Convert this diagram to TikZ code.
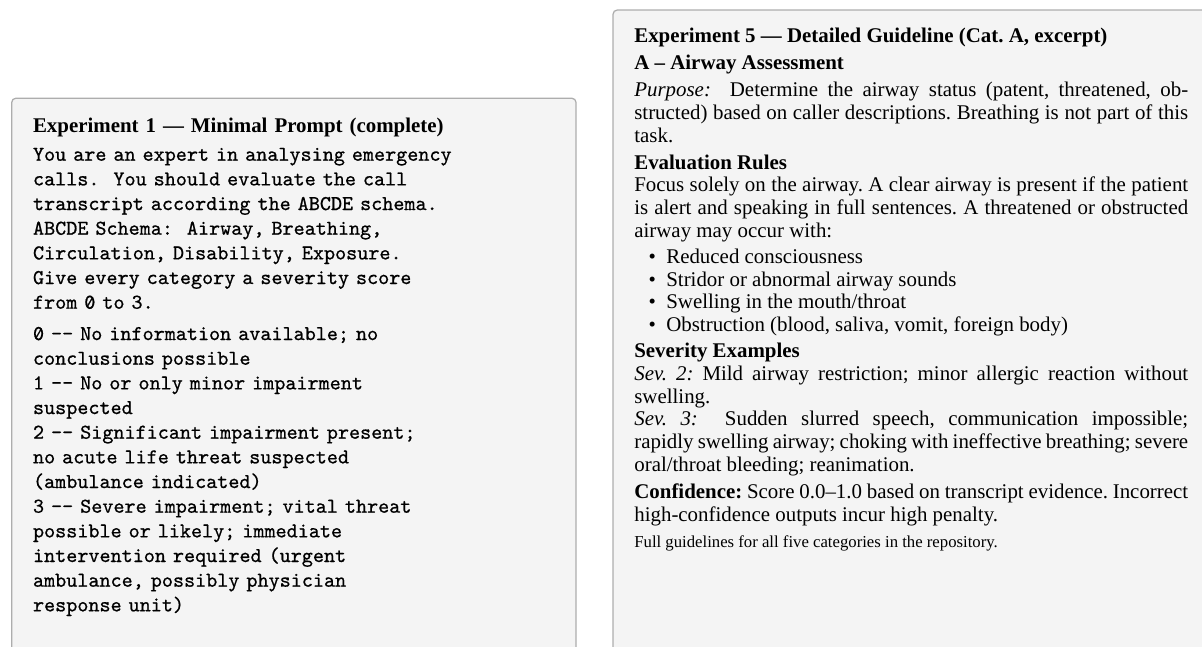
\documentclass[tikz,border=0pt]{standalone}
\usepackage{graphicx}
\usepackage{fontspec}
\setmainfont{Liberation Serif}
\newfontfamily\promptmono[FakeBold=0.7]{lmmono10-regular.otf}
\usetikzlibrary{calc}

\definecolor{panelfill}{HTML}{F4F4F4}
\definecolor{panelline}{HTML}{ADADAD}

% typewriter face for the prompt listing
\newcommand{\promptfont}{\promptmono\fontsize{10.1}{11.8}\selectfont}
% slashed zero for the typewriter listing
\newcommand{\zeroslash}{\makebox[0pt][l]{0}\makebox[\fontcharwd\font`0][c]{\raisebox{0.12em}{\scalebox{0.75}[0.62]{/}}}}

\tikzset{
  panel/.style={draw=panelline, fill=panelfill, line width=0.6pt,
    rounded corners=2pt, rectangle, inner sep=0pt, anchor=north west},
  paneltext/.style={inner sep=0pt, anchor=base west,
    font=\fontsize{10}{10.9}\selectfont},
}

\begin{document}
\begin{tikzpicture}[x=1pt,y=1pt]
\useasboundingbox (0,0) rectangle (575.1,-309.1);
\begin{scope}
\clip (0,0) rectangle (575.1,-309.1);

% the two panels
\node[panel, minimum width=270pt, minimum height=300pt] (leftpanel) at (5.3,-46.7) {};
\node[panel, minimum width=295pt, minimum height=360pt] (rightpanel) at (293,-4.5) {};

% left panel: the minimal prompt
\node[paneltext, text width=244pt, align=left] (prompt) at (15.6,-63.6) {%
\frenchspacing
\textbf{Experiment 1 --- Minimal Prompt (complete)}\par
\vspace{1.5pt}
{\promptfont
You are an expert in analysing emergency\\
calls.\ \ You should evaluate the call\\
transcript according the ABCDE schema.\\
ABCDE Schema:\ \ Airway, Breathing,\\
Circulation, Disability, Exposure.\\
Give every category a severity score\\
from \zeroslash{} to 3.\par
\vspace{3.2pt}
\zeroslash{} -{}- No information available; no\\
conclusions possible\\
1 -{}- No or only minor impairment\\
suspected\\
2 -{}- Significant impairment present;\\
no acute life threat suspected\\
(ambulance indicated)\\
3 -{}- Severe impairment; vital threat\\
possible or likely; immediate\\
intervention required (urgent\\
ambulance, possibly physician\\
response unit)\par}
};

% right panel: the detailed guideline excerpt
\node[paneltext, text width=265pt, align=justify] (guideline) at (303.3,-20.4) {%
\frenchspacing
\textbf{Experiment 5 --- Detailed Guideline (Cat.~A, excerpt)}\par
\vspace{2pt}
\textbf{A -- Airway Assessment}\par
\vspace{2pt}
\textit{Purpose:}\ \ Determine the airway status (patent, threatened, ob-\linebreak
structed) based on caller descriptions. Breathing is not part of this\linebreak
task.\par
\vspace{2pt}
\textbf{Evaluation Rules}\par
Focus solely on the airway. A clear airway is present if the patient\linebreak
is alert and speaking in full sentences. A threatened or obstructed\linebreak
airway may occur with:\par
\begin{list}{\textbullet}{\setlength{\leftmargin}{15.3pt}\setlength{\labelwidth}{10pt}%
  \setlength{\labelsep}{5pt}\setlength{\itemsep}{0pt}\setlength{\parsep}{0pt}%
  \setlength{\topsep}{1.5pt}\setlength{\partopsep}{0pt}}
\item Reduced consciousness
\item Stridor or abnormal airway sounds
\item Swelling in the mouth/throat
\item Obstruction (blood, saliva, vomit, foreign body)
\end{list}
\textbf{Severity Examples}\par
\textit{Sev.~2:} Mild airway restriction; minor allergic reaction without\linebreak
swelling.\par
\textit{Sev.~3:}\ \ Sudden slurred speech, communication impossible;\linebreak
rapidly swelling airway; choking with ineffective breathing; severe\linebreak
oral/throat bleeding; reanimation.\par
\vspace{2pt}
\textbf{Confidence:} Score 0.0--1.0 based on transcript evidence. Incorrect\linebreak
high-confidence outputs incur high penalty.\par
\vspace{3pt}
{\footnotesize Full guidelines for all five categories in the repository.\par}
};
\end{scope}
\end{tikzpicture}
\end{document}
